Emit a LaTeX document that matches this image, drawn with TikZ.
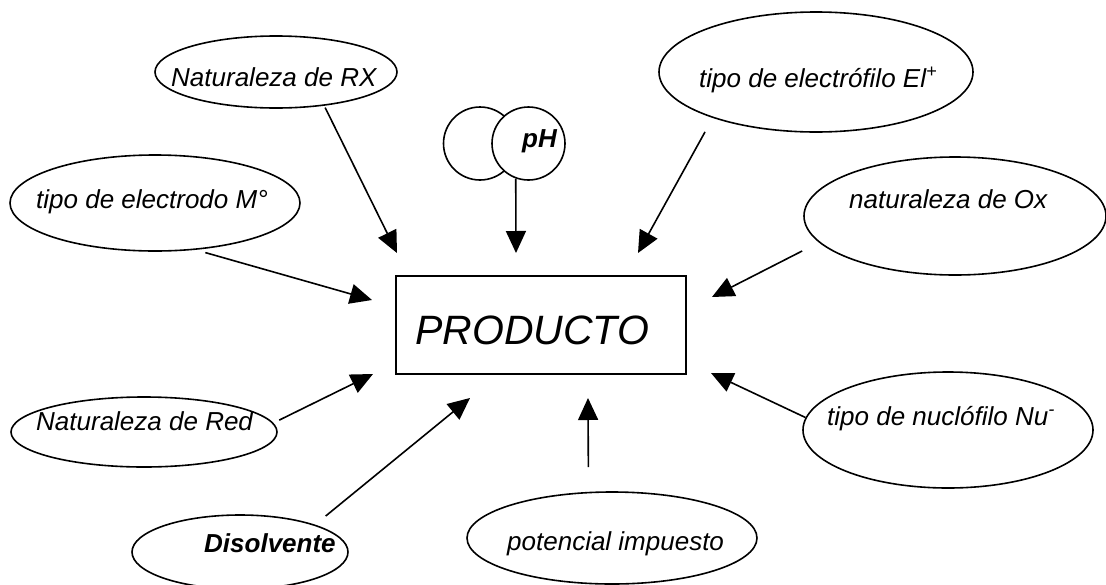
\documentclass[tikz,border=0pt]{standalone}
\usepackage{fontspec}
\setmainfont{Liberation Sans}
\usetikzlibrary{shapes.geometric,arrows.meta}
\begin{document}
\begin{tikzpicture}[x=1pt,y=-1pt,
  oval/.style={ellipse,draw,line width=1.6pt,inner sep=0pt,fill=white},
  circ/.style={circle,draw,line width=1.6pt,inner sep=0pt,minimum size=73pt,fill=white},
  lbl/.style={anchor=base west,inner sep=0pt,font=\fontsize{26}{30}\selectfont\itshape},
  blbl/.style={anchor=base west,inner sep=0pt,font=\fontsize{26}{30}\selectfont\bfseries\itshape},
  arr/.style={line width=1.6pt,-{Triangle[length=22pt,width=20pt]}}]
\useasboundingbox (0,0) rectangle (1106,584);
\clip (0,0) rectangle (1106,584);
% ovals
\node[oval,minimum width=242pt,minimum height=72pt] (rx) at (276,72) {};
\node[oval,minimum width=290pt,minimum height=96pt] (elec) at (155,203) {};
\node[oval,minimum width=314pt,minimum height=120pt] (el) at (816,72) {};
\node[oval,minimum width=302pt,minimum height=118pt] (ox) at (955,216) {};
\node[oval,minimum width=266pt,minimum height=70pt] (red) at (144,432) {};
\node[oval,minimum width=216pt,minimum height=74pt] (dis) at (240,552) {};
\node[oval,minimum width=290pt,minimum height=92pt] (pot) at (612,538) {};
\node[oval,minimum width=290pt,minimum height=116pt] (nu) at (948,430) {};
% pH circles
\node[circ] (phl) at (480,143.5) {};
\node[circ] (phr) at (528.5,143.5) {};
% product box
\node[draw,line width=1.6pt,inner sep=0pt,minimum width=290pt,minimum height=98pt] (prod) at (541,325) {};
% labels
\node[lbl] (trx) at (171,86) {Naturaleza de RX};
\node[lbl] (telec) at (36,208) {tipo de electrodo M°};
\node[lbl] (tel) at (699,87) {tipo de electrófilo El\textsuperscript{+}};
\node[lbl] (tox) at (849,208) {naturaleza de Ox};
\node[lbl] (tred) at (36,430) {Naturaleza de Red};
\node[blbl] (tdis) at (204,552) {Disolvente};
\node[lbl] (tpot) at (507,550) {potencial impuesto};
\node[lbl] (tnu) at (827,425) {tipo de nuclófilo Nu\textsuperscript{-}};
\node[blbl] (tph) at (522,147) {pH};
\node[anchor=base west,inner sep=0pt,font=\fontsize{41}{48}\selectfont\itshape] (tprod) at (415,344) {PRODUCTO};
% arrow tips
\coordinate (kRX) at (397,253);
\coordinate (kPH) at (516,253);
\coordinate (kEl) at (638,253);
\coordinate (kElec) at (372,300);
\coordinate (kOx) at (712,297);
\coordinate (kRed) at (373,374);
\coordinate (kNu) at (711,373);
\coordinate (kDis) at (470,398);
\coordinate (kPot) at (588,398);
% arrows
\draw[arr,shorten <=2pt] (rx.-35.2) -- (kRX);
\draw[arr] (phr.-110) -- (kPH);
\draw[arr,shorten <=15.9pt] (el.204.8) -- (kEl);
\draw[arr,shorten <=10pt] (elec.-49.6) -- (kElec);
\draw[arr,shorten <=18.8pt] (ox.191.8) -- (kOx);
\draw[arr,shorten <=6.4pt] (red.4.63) -- (kRed);
\draw[arr] (nu.175.6) -- (kNu);
\draw[arr,shorten <=13.6pt] (dis.20.8) -- (kDis);
\draw[arr,shorten <=24.6pt] (pot.117.9) -- (kPot);
\end{tikzpicture}
\end{document}
